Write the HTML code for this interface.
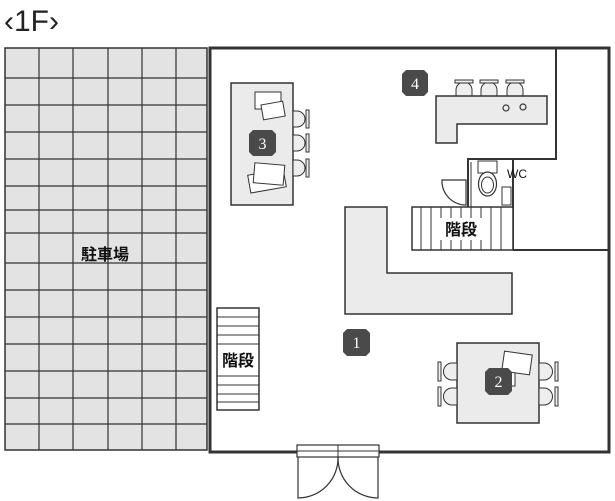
<!DOCTYPE html>
<html><head><meta charset="utf-8"><style>
html,body{margin:0;padding:0;background:#fff;}
svg{display:block;}
text{font-family:"Liberation Sans","Noto Sans CJK JP",sans-serif;}
</style></head><body>
<svg width="615" height="501" viewBox="0 0 615 501" xmlns="http://www.w3.org/2000/svg">
<text x="4" y="31" font-size="30" fill="#222">‹1F›</text>
<!-- parking -->
<rect x="5" y="48" width="202" height="402" fill="#e3e3e3" stroke="#333" stroke-width="1.5"/>
<g stroke="#333" stroke-width="1.2">
<line x1="39" y1="48" x2="39" y2="450"/><line x1="73" y1="48" x2="73" y2="450"/><line x1="108" y1="48" x2="108" y2="450"/><line x1="142" y1="48" x2="142" y2="450"/><line x1="176" y1="48" x2="176" y2="450"/>
<line x1="5" y1="78" x2="207" y2="78"/><line x1="5" y1="105" x2="207" y2="105"/><line x1="5" y1="132" x2="207" y2="132"/><line x1="5" y1="159" x2="207" y2="159"/><line x1="5" y1="186" x2="207" y2="186"/><line x1="5" y1="210" x2="207" y2="210"/><line x1="5" y1="233" x2="207" y2="233"/><line x1="5" y1="263" x2="207" y2="263"/><line x1="5" y1="290" x2="207" y2="290"/><line x1="5" y1="317" x2="207" y2="317"/><line x1="5" y1="344" x2="207" y2="344"/><line x1="5" y1="371" x2="207" y2="371"/><line x1="5" y1="398" x2="207" y2="398"/><line x1="5" y1="424" x2="207" y2="424"/>
</g>
<text x="105" y="260" font-size="16" text-anchor="middle" fill="#111" font-weight="bold">駐車場</text>
<!-- outer walls -->
<rect x="210" y="48" width="399" height="404" fill="none" stroke="#333" stroke-width="3"/>
<!-- kitchen walls -->
<g stroke="#333" stroke-width="2" fill="none">
<polyline points="556,48 556,159 468,159 468,207"/>
<line x1="471" y1="162" x2="471" y2="207" stroke-width="1"/>
<line x1="513" y1="159" x2="513" y2="250"/>
<line x1="513" y1="250" x2="609" y2="250"/>
</g>
<!-- stairs top -->
<rect x="412" y="207" width="101" height="43" fill="#fff" stroke="#333" stroke-width="1.5"/>
<g stroke="#333" stroke-width="1">
<line x1="421" y1="207" x2="421" y2="250"/><line x1="431" y1="207" x2="431" y2="250"/><line x1="441" y1="207" x2="441" y2="250"/><line x1="451" y1="207" x2="451" y2="250"/><line x1="461" y1="207" x2="461" y2="250"/><line x1="471" y1="207" x2="471" y2="250"/><line x1="481" y1="207" x2="481" y2="250"/><line x1="491" y1="207" x2="491" y2="250"/><line x1="501" y1="207" x2="501" y2="250"/>
</g>
<rect x="438" y="218" width="46" height="22" fill="#fff"/>
<text x="461" y="235" font-size="16" text-anchor="middle" fill="#111" font-weight="bold">階段</text>
<!-- WC -->
<path d="M442,180 L466,180 L466,205 A24,24 0 0 1 442,180 Z" fill="#fff" stroke="#333" stroke-width="1.2"/>
<rect x="478" y="161" width="19" height="12" fill="#fff" stroke="#333" stroke-width="1"/>
<ellipse cx="487.5" cy="184" rx="9" ry="12" fill="#fff" stroke="#333" stroke-width="1.2"/>
<ellipse cx="487.5" cy="185" rx="6" ry="8" fill="none" stroke="#333" stroke-width="1"/>
<rect x="502" y="187" width="9" height="18" fill="#fff" stroke="#333" stroke-width="1"/>
<text x="507" y="178" font-size="12" fill="#111">WC</text>
<!-- table 3 -->
<rect x="231" y="83" width="62" height="122" fill="#ebebeb" stroke="#333" stroke-width="1.5"/>
<g fill="#eee" stroke="#333" stroke-width="1">
<path d="M293,111 h4 a8,8 0 0 1 0,16 h-4 z"/><path d="M293,135 h4 a8,8 0 0 1 0,16 h-4 z"/><path d="M293,160 h4 a8,8 0 0 1 0,16 h-4 z"/>
<rect x="306" y="110" width="3" height="18"/><rect x="306" y="134" width="3" height="18"/><rect x="306" y="159" width="3" height="18"/>
</g>
<g fill="#fff" stroke="#333" stroke-width="1">
<rect x="255" y="92" width="26" height="17"/><rect x="262" y="103" width="22" height="15" transform="rotate(-10 273 110)"/>
<rect x="249" y="172" width="36" height="18" transform="rotate(-10 267 181)"/><rect x="254" y="164" width="30" height="20" transform="rotate(5 269 174)"/>
</g>
<!-- counter 4 -->
<g fill="#eee" stroke="#333" stroke-width="1">
<path d="M456,96 v-6 a8,8 0 0 1 16,0 v6 z"/><path d="M481,96 v-6 a8,8 0 0 1 16,0 v6 z"/><path d="M507,96 v-6 a8,8 0 0 1 16,0 v6 z"/>
<rect x="455" y="80" width="18" height="3"/><rect x="480" y="80" width="18" height="3"/><rect x="506" y="80" width="18" height="3"/>
</g>
<path d="M436,96 H547 V124 H457 V143 H436 Z" fill="#ebebeb" stroke="#333" stroke-width="1.5"/>
<circle cx="506" cy="108" r="3" fill="none" stroke="#333" stroke-width="1.2"/>
<circle cx="523" cy="107" r="3" fill="none" stroke="#333" stroke-width="1.2"/>
<!-- big L counter -->
<path d="M345,207 H387 V273 H512 V314 H345 Z" fill="#ebebeb" stroke="#333" stroke-width="1.5"/>
<!-- left stairs -->
<rect x="217" y="308" width="42" height="102" fill="#fff" stroke="#333" stroke-width="1.5"/>
<g stroke="#333" stroke-width="1">
<line x1="217" y1="317" x2="259" y2="317"/><line x1="217" y1="326" x2="259" y2="326"/><line x1="217" y1="335" x2="259" y2="335"/><line x1="217" y1="344" x2="259" y2="344"/>
<line x1="217" y1="376" x2="259" y2="376"/><line x1="217" y1="385" x2="259" y2="385"/><line x1="217" y1="394" x2="259" y2="394"/><line x1="217" y1="402" x2="259" y2="402"/>
</g>
<rect x="218" y="348" width="40" height="24" fill="#fff"/>
<text x="238" y="366" font-size="16" text-anchor="middle" fill="#111" font-weight="bold">階段</text>
<!-- table 2 -->
<rect x="457" y="343" width="82" height="80" fill="#ebebeb" stroke="#333" stroke-width="1.5"/>
<g fill="#eee" stroke="#333" stroke-width="1">
<path d="M457,363 h-5 a8,8 0 0 0 0,17 h5 z"/><path d="M457,388 h-5 a8,8 0 0 0 0,17 h5 z"/>
<path d="M539,363 h5 a8,8 0 0 1 0,17 h-5 z"/><path d="M539,388 h5 a8,8 0 0 1 0,17 h-5 z"/>
<rect x="438" y="362" width="3" height="19"/><rect x="438" y="387" width="3" height="19"/>
<rect x="555" y="362" width="3" height="19"/><rect x="555" y="387" width="3" height="19"/>
</g>
<g fill="#fff" stroke="#333" stroke-width="1">
<rect x="497" y="372" width="18" height="14"/>
<rect x="503" y="353" width="28" height="20" transform="rotate(8 517 363)"/>
</g>
<!-- badges -->
<g fill="#4a4a4a">
<path d="M406,70 h18 l4,4 v18 l-4,4 h-18 l-4,-4 v-18 z"/>
<path d="M253,130 h19 l4,4 v18 l-4,4 h-19 l-4,-4 v-18 z"/>
<path d="M347,329 h19 l4,4 v19 l-4,4 h-19 l-4,-4 v-19 z"/>
<path d="M489,368 h19 l4,4 v19 l-4,4 h-19 l-4,-4 v-19 z"/>
</g>
<g fill="#fff" font-size="16" text-anchor="middle">
<text x="415" y="89" style="font-family:'Liberation Serif',serif">4</text>
<text x="262.5" y="149" style="font-family:'Liberation Serif',serif">3</text>
<text x="356.5" y="348" style="font-family:'Liberation Serif',serif">1</text>
<text x="498.5" y="387" style="font-family:'Liberation Serif',serif">2</text>
</g>
<!-- entrance door -->
<rect x="297" y="445" width="82" height="12" fill="#fff" stroke="#333" stroke-width="1.2"/>
<line x1="297" y1="451" x2="379" y2="451" stroke="#333" stroke-width="1"/>
<line x1="338" y1="445" x2="338" y2="457" stroke="#333" stroke-width="1"/>
<g fill="none" stroke="#333" stroke-width="1.2">
<path d="M298,457 V498 A40,40 0 0 0 338,457"/>
<path d="M378,457 V498 A40,40 0 0 1 338,457"/>
</g>
</svg>
</body></html>
